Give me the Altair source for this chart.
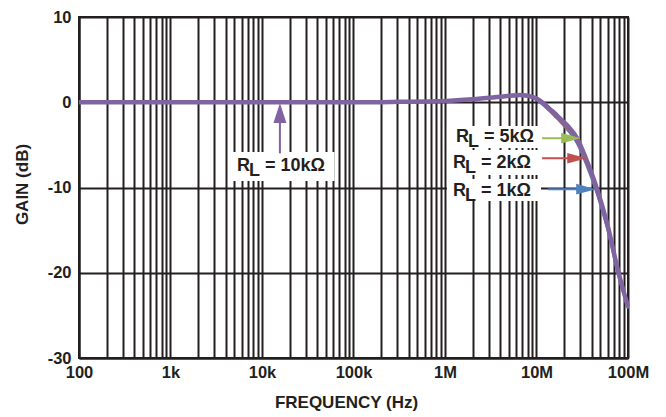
import altair as alt
import pandas as pd

# ---- data ----
freq = [1e2, 1e3, 1e4, 1e5, 3e5, 1e6, 2e6, 4e6, 5e6, 6.6e6, 8e6, 10e6, 12e6,
        14e6, 16e6, 18e6, 22e6, 27.7e6, 34.7e6, 46e6, 60e6, 78e6, 1e8]
gain_10k = [0, 0, 0, 0, 0.05, 0.15, 0.35, 0.65, 0.75, 0.85, 0.78, 0.45, -0.15,
            -0.8, -1.35, -1.9, -2.8, -4.2, -6.6, -10.2, -14.5, -19.8, -24.0]
gain_5k = [0, 0, 0, 0, 0.05, 0.15, 0.35, 0.65, 0.74, 0.83, 0.75, 0.4, -0.22,
           -0.88, -1.45, -2.0, -2.95, -4.35, -6.75, -10.35, -14.6, -19.9, -24.0]
gain_2k = [0, 0, 0, 0, 0.05, 0.15, 0.35, 0.64, 0.72, 0.8, 0.71, 0.34, -0.3,
           -0.97, -1.55, -2.1, -3.1, -4.55, -6.95, -10.55, -14.8, -20.0, -24.1]
gain_1k = [0, 0, 0, 0, 0.05, 0.15, 0.34, 0.62, 0.69, 0.76, 0.66, 0.27, -0.4,
           -1.08, -1.7, -2.25, -3.3, -4.8, -7.2, -10.8, -15.0, -20.2, -24.2]

series_names = ["RL = 1kΩ", "RL = 2kΩ", "RL = 5kΩ", "RL = 10kΩ"]
series_colors = ["#4F81BD", "#C0504D", "#9BBB59", "#8064A2"]

x_tick_values = [100, 1000, 10000, 100000, 1000000, 10000000, 100000000]
x_tick_labels = ["100", "1k", "10k", "100k", "1M", "10M", "100M"]
y_tick_values = [-30, -20, -10, 0, 10]

# annotation labels (anchor in data coordinates: left edge / baseline)
label_values = ["10kΩ", "5kΩ", "2kΩ", "1kΩ"]
label_freq = [5.33e3, 1.32e6, 1.22e6, 1.22e6]
label_gain = [-8.06, -4.66, -7.68, -11.05]
# white boxes behind labels
box_f1 = [4.82e3, 1.05e6, 1.05e6, 1.05e6]
box_f2 = [6.2e4, 1.12e7, 1.12e7, 1.12e7]
box_g1 = [-5.83, -2.79, -5.6, -9.0]
box_g2 = [-9.24, -5.37, -8.53, -11.58]
# horizontal arrows (5k, 2k, 1k)
harrow_start = [1.15e7, 1.15e7, 1.34e7]
harrow_end = [2.05e7, 2.32e7, 2.99e7]
harrow_head = [2.38e7, 2.77e7, 3.47e7]
harrow_gain = [-4.22, -6.57, -10.2]
harrow_color = ["#9BBB59", "#C0504D", "#4F81BD"]
# vertical arrow (10k)
varrow_freq = [1.57e4]
varrow_g1 = [-6.0]
varrow_g2 = [-1.85]
varrow_head = [-1.26]

FONT = "Liberation Sans"
INK = "#231F20"

grid_values = [m * 10 ** e for e in range(2, 8) for m in range(1, 10)] + [10 ** 8]
label_map = dict(zip(x_tick_values, x_tick_labels))
label_expr = " : ".join(
    f"datum.value == {v} ? '{t}'" for v, t in label_map.items()
) + " : ''"

rows = []
for name, g in zip(series_names, [gain_1k, gain_2k, gain_5k, gain_10k]):
    for f, v in zip(freq, g):
        rows.append({"freq": f, "gain": v, "series": name})
curves = pd.DataFrame(rows)

xscale = alt.Scale(type="log", domain=[100, 1e8], nice=False)
yscale = alt.Scale(domain=[-30, 10], nice=False)

xenc = alt.X(
    "freq:Q", scale=xscale,
    axis=alt.Axis(
        values=grid_values, labelExpr=label_expr, title="FREQUENCY (Hz)",
        grid=True, ticks=False, labelOverlap=False, labelFlush=False,
        labelPadding=6, titlePadding=14, titleX=267,
    ),
)
yenc = alt.Y(
    "gain:Q", scale=yscale,
    axis=alt.Axis(values=y_tick_values, title="GAIN (dB)", grid=True, ticks=False,
                  labelExpr="'' + datum.value",
                  labelPadding=8, titlePadding=16, titleY=167),
)

others = alt.Chart(curves[curves.series != "RL = 10kΩ"]).mark_line(
    strokeWidth=2.5, interpolate="monotone"
).encode(
    x=xenc, y=yenc,
    color=alt.Color("series:N", scale=alt.Scale(domain=series_names, range=series_colors), legend=None),
    detail="series:N",
)
main = alt.Chart(curves[curves.series == "RL = 10kΩ"]).mark_line(
    strokeWidth=4.5, interpolate="monotone", color="#8064A2"
).encode(x="freq:Q", y="gain:Q")

boxes = alt.Chart(pd.DataFrame({"f1": box_f1, "f2": box_f2, "g1": box_g1, "g2": box_g2})).mark_rect(
    color="white"
).encode(x="f1:Q", x2="f2", y="g1:Q", y2="g2")

labels_df = pd.DataFrame({"freq": label_freq, "gain": label_gain,
                          "rest": ["= " + v for v in label_values]})
txt_style = dict(font=FONT, fontWeight="bold", fontSize=18, color=INK,
                 align="left", baseline="alphabetic")
t_r = alt.Chart(labels_df).mark_text(text="R", **txt_style).encode(x="freq:Q", y="gain:Q")
t_l = alt.Chart(labels_df).mark_text(text="L", dx=12, dy=5, **txt_style).encode(x="freq:Q", y="gain:Q")
t_rest = alt.Chart(labels_df).mark_text(dx=28, **txt_style).encode(x="freq:Q", y="gain:Q", text="rest:N")

harrows = pd.DataFrame({"f1": harrow_start, "f2": harrow_end, "fh": harrow_head,
                        "gain": harrow_gain, "c": harrow_color})
h_shaft = alt.Chart(harrows).mark_rule(strokeWidth=2).encode(
    x="f1:Q", x2="f2", y="gain:Q", color=alt.Color("c:N", scale=None))
h_head = alt.Chart(harrows).mark_point(
    shape="M1,0L-1,-0.55L-1,0.55Z", filled=True, opacity=1, size=380
).encode(x="fh:Q", y="gain:Q", color=alt.Color("c:N", scale=None))

varrow = pd.DataFrame({"freq": varrow_freq, "g1": varrow_g1, "g2": varrow_g2, "gh": varrow_head})
v_shaft = alt.Chart(varrow).mark_rule(strokeWidth=2, color="#8064A2").encode(
    x="freq:Q", y="g1:Q", y2="g2")
v_head = alt.Chart(varrow).mark_point(
    shape="M0,-1L0.65,1L-0.65,1Z", filled=True, opacity=1, size=400, color="#8064A2"
).encode(x="freq:Q", y="gh:Q")

chart = alt.layer(
    others, main, boxes, v_shaft, v_head, h_shaft, h_head, t_r, t_l, t_rest
).properties(
    width=549, height=341,
    background="white",
    autosize=alt.AutoSizeParams(type="none"),
    padding={"left": 71, "top": 9, "right": 30, "bottom": 58},
).configure_view(
    stroke=INK, strokeWidth=2
).configure_axis(
    gridColor=INK, gridWidth=2, gridOpacity=1,
    domainColor=INK, domainWidth=2,
    labelFont=FONT, labelFontSize=16.5, labelFontWeight="bold", labelColor=INK,
    titleFont=FONT, titleFontSize=17, titleFontWeight="bold", titleColor=INK,
)

chart.save("out.html", embed_options={"renderer": "svg", "actions": False})
